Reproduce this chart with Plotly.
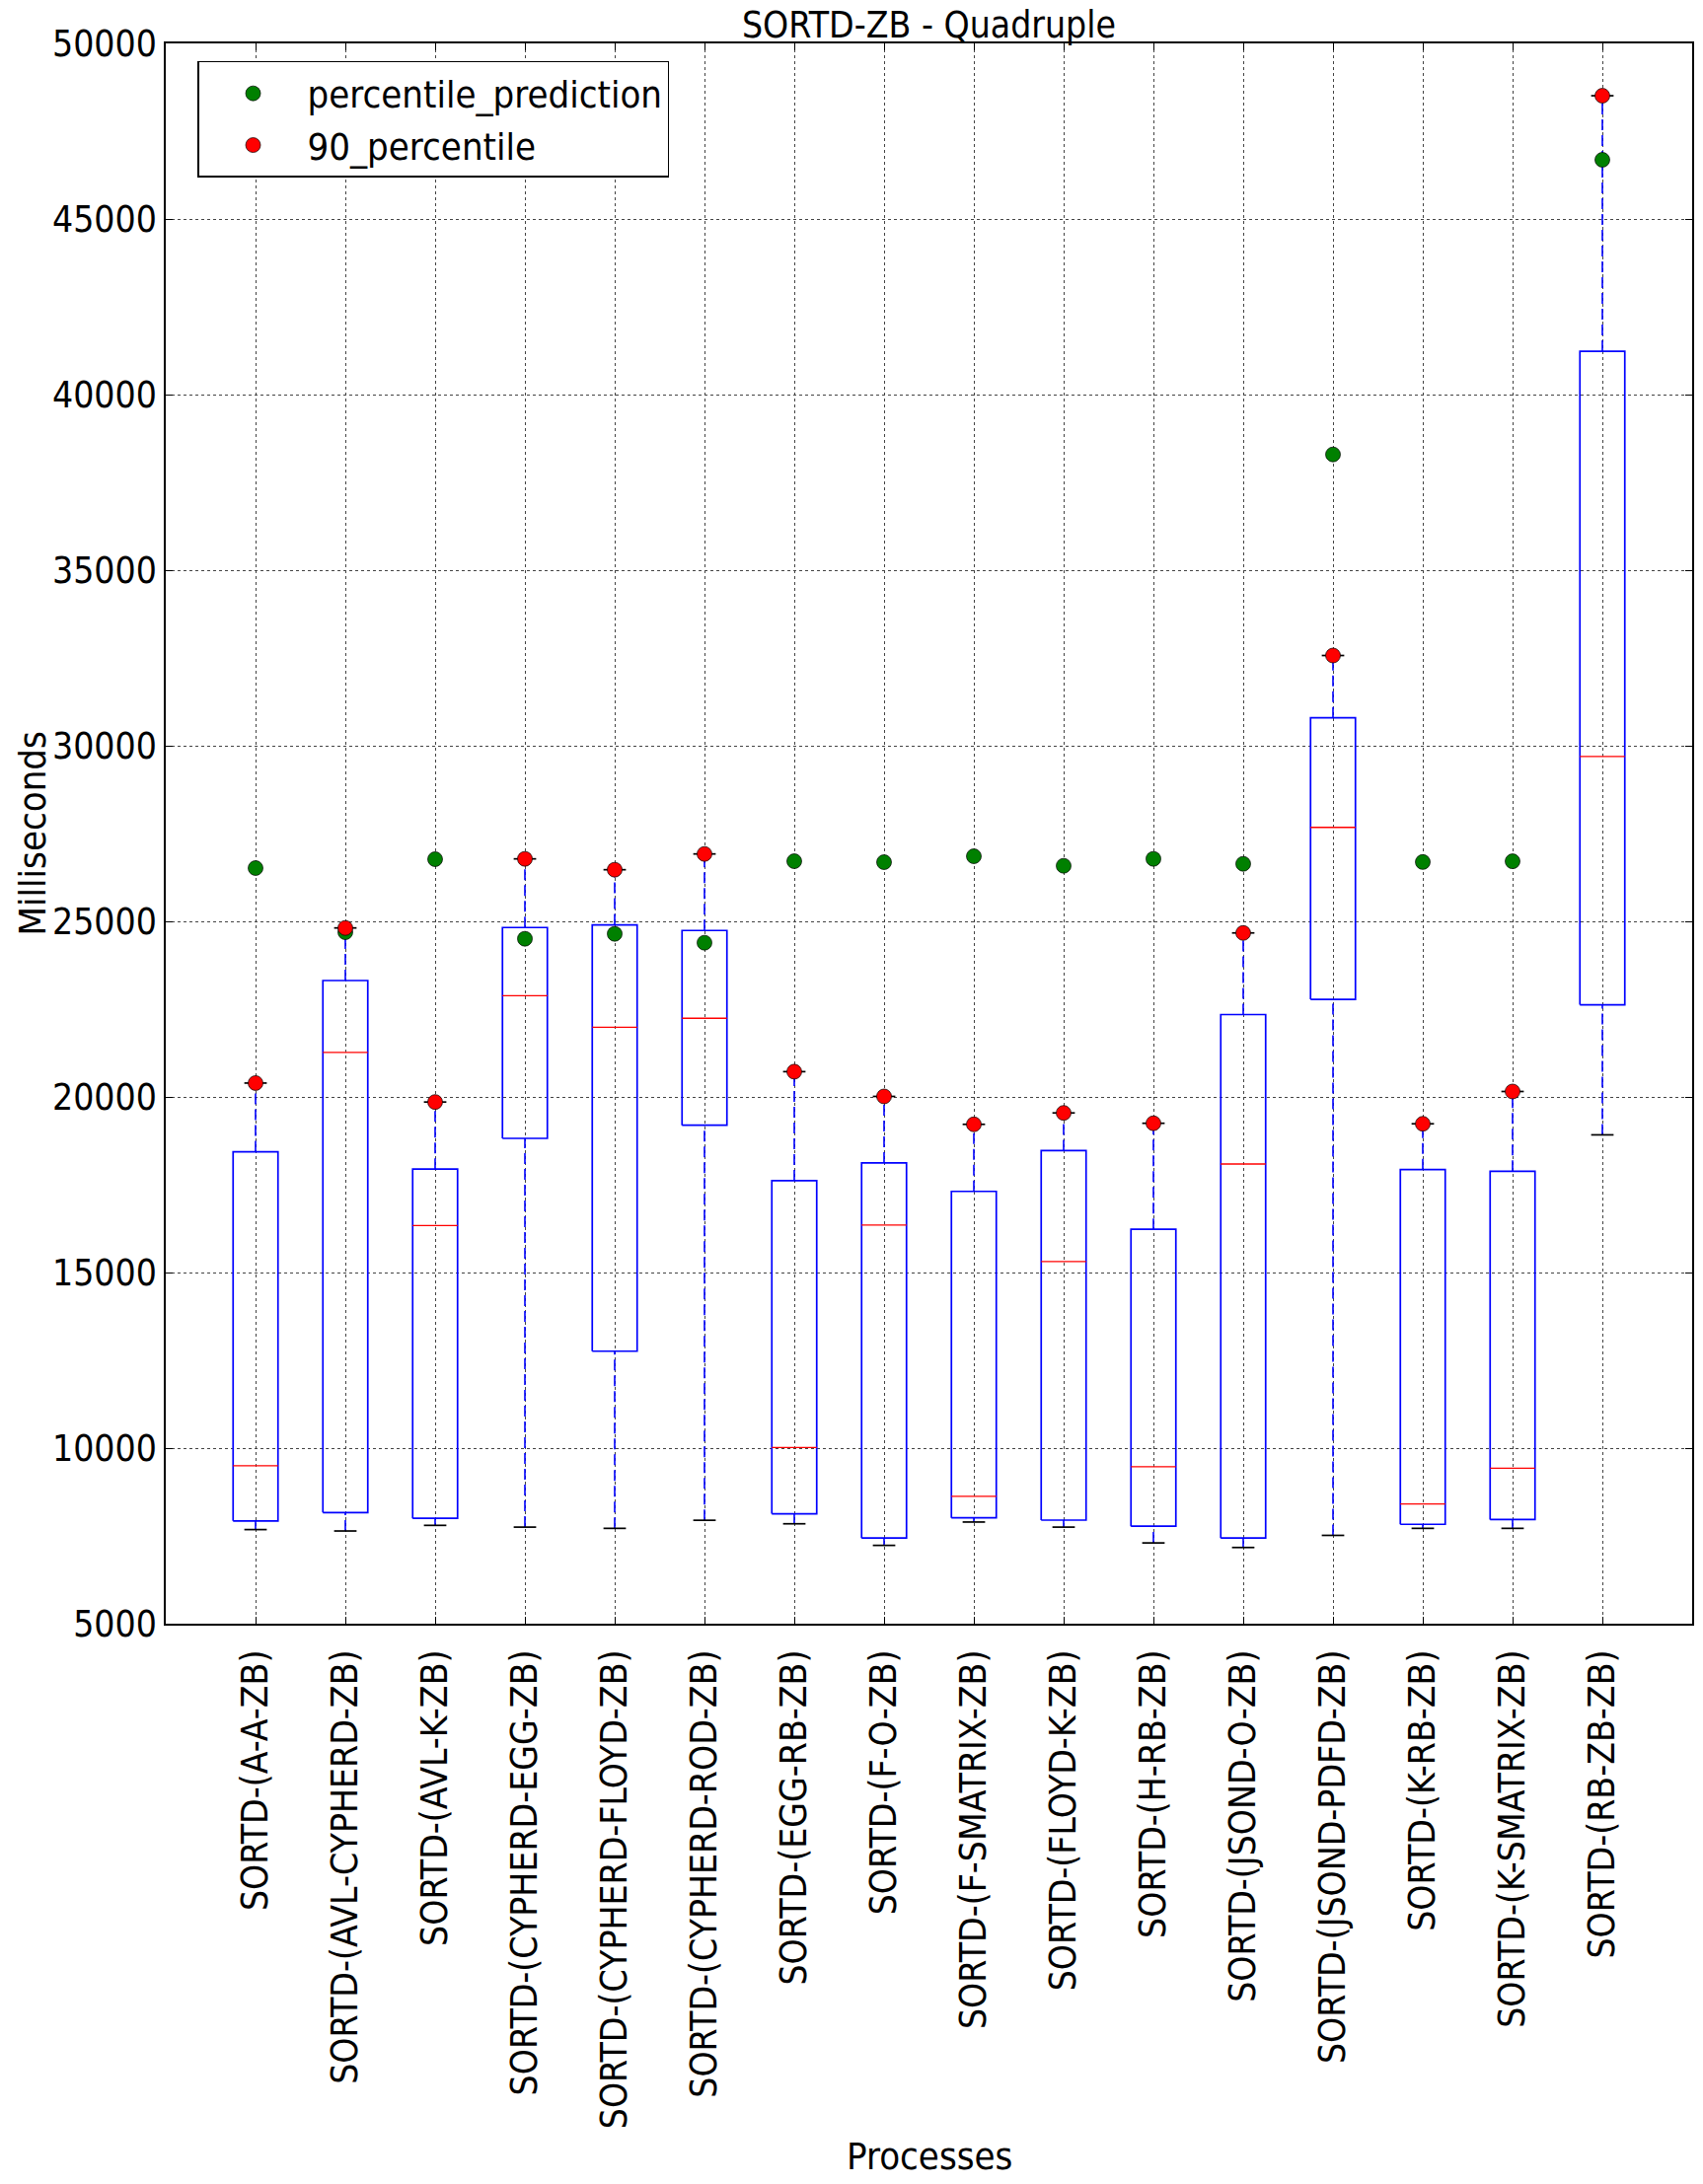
import plotly.graph_objects as go

# ---------------- data ----------------
categories = [
    "SORTD-(A-A-ZB)", "SORTD-(AVL-CYPHERD-ZB)", "SORTD-(AVL-K-ZB)",
    "SORTD-(CYPHERD-EGG-ZB)", "SORTD-(CYPHERD-FLOYD-ZB)", "SORTD-(CYPHERD-ROD-ZB)",
    "SORTD-(EGG-RB-ZB)", "SORTD-(F-O-ZB)", "SORTD-(F-SMATRIX-ZB)",
    "SORTD-(FLOYD-K-ZB)", "SORTD-(H-RB-ZB)", "SORTD-(JSOND-O-ZB)",
    "SORTD-(JSOND-PDFD-ZB)", "SORTD-(K-RB-ZB)", "SORTD-(K-SMATRIX-ZB)",
    "SORTD-(RB-ZB-ZB)",
]
whisker_low = [7680, 7640, 7800, 7750, 7715, 7945, 7845, 7230, 7895, 7750, 7300, 7170, 7515, 7715, 7715, 18920]
q1 = [7925, 8165, 8000, 18820, 12760, 19195, 8130, 7440, 8015, 7950, 7775, 7440, 22780, 7830, 7965, 22625]
median = [9500, 21270, 16340, 22885, 21985, 22240, 10015, 16350, 8625, 15315, 9470, 18090, 27675, 8410, 9425, 29695]
q3 = [18440, 23315, 17945, 24825, 24900, 24740, 17615, 18120, 17310, 18470, 16230, 22345, 30795, 17930, 17885, 41235]
percentile_90 = [20395, 24812, 19855, 26779, 26470, 26919, 20720, 20015, 19220, 19545, 19250, 24670, 32570, 19235, 20155, 48510]
percentile_prediction = [26517, 24690, 26770, 24504, 24644, 24391, 26713, 26685, 26854, 26582, 26779, 26638, 38295, 26690, 26710, 46685]
y_ticks = [5000, 10000, 15000, 20000, 25000, 30000, 35000, 40000, 45000, 50000]

positions = list(range(1, len(categories) + 1))
BOX_HALF = 0.25
CAP_HALF = 0.125

# ---------------- geometry built from data ----------------
box_x, box_y = [], []
med_x, med_y = [], []
wh_x, wh_y = [], []
cap_x, cap_y = [], []
for p, lo, a, m, b, hi in zip(positions, whisker_low, q1, median, q3, percentile_90):
    box_x += [p - BOX_HALF, p + BOX_HALF, p + BOX_HALF, p - BOX_HALF, p - BOX_HALF, None]
    box_y += [a, a, b, b, a, None]
    med_x += [p - BOX_HALF, p + BOX_HALF, None]
    med_y += [m, m, None]
    wh_x += [p, p, None, p, p, None]
    wh_y += [lo, a, None, b, hi, None]
    cap_x += [p - CAP_HALF, p + CAP_HALF, None, p - CAP_HALF, p + CAP_HALF, None]
    cap_y += [lo, lo, None, hi, hi, None]

FONT = "DejaVu Sans Condensed, DejaVu Sans, sans-serif"
fig = go.Figure()

fig.add_trace(go.Scatter(x=wh_x, y=wh_y, mode="lines", showlegend=False, hoverinfo="skip",
                         line=dict(color="#0000ff", width=1.6, dash="11px,5px")))
fig.add_trace(go.Scatter(x=box_x, y=box_y, mode="lines", showlegend=False, hoverinfo="skip",
                         line=dict(color="#0000ff", width=1.7)))
fig.add_trace(go.Scatter(x=med_x, y=med_y, mode="lines", showlegend=False, hoverinfo="skip",
                         line=dict(color="#ff0000", width=1.3)))
fig.add_trace(go.Scatter(x=cap_x, y=cap_y, mode="lines", showlegend=False, hoverinfo="skip",
                         line=dict(color="#000000", width=1.7)))

fig.add_trace(go.Scatter(x=positions, y=percentile_prediction, mode="markers",
                         name="percentile_prediction",
                         marker=dict(color="#008000", size=15, line=dict(color="#000000", width=0.7))))
fig.add_trace(go.Scatter(x=positions, y=percentile_90, mode="markers",
                         name="90_percentile",
                         marker=dict(color="#ff0000", size=15, line=dict(color="#000000", width=0.7))))

axis_common = dict(
    showline=True, linecolor="#000000", linewidth=1.5, mirror="ticks",
    ticks="inside", ticklen=7, tickwidth=1, tickcolor="#000000",
    showgrid=True, gridcolor="#444444", gridwidth=1, griddash="dot",
    zeroline=False,
)

fig.update_xaxes(
    range=[0, 17], tickmode="array", tickvals=positions, ticktext=categories,
    tickangle=-90, tickfont=dict(family=FONT, size=37, color="#000000"),
    ticklabelstandoff=10, **axis_common,
)
fig.update_yaxes(
    range=[5000, 50000], tickmode="array", tickvals=y_ticks,
    ticktext=[str(v) for v in y_ticks],
    tickfont=dict(family=FONT, size=37, color="#000000"),
    **axis_common,
)

W, H = 1726, 2214
fig.update_layout(
    width=W, height=H,
    margin=dict(l=168, r=9, t=44, b=568),
    paper_bgcolor="#ffffff", plot_bgcolor="#ffffff",
    font=dict(family=FONT, size=37, color="#000000"),
    title=dict(text="SORTD-ZB - Quadruple", x=0.5, xref="paper", xanchor="center",
               y=1 - 25 / H, yref="container", yanchor="middle",
               font=dict(family=FONT, size=37, color="#000000")),
    legend=dict(x=0.0207, y=0.9888, xanchor="left", yanchor="top",
                bgcolor="#ffffff", bordercolor="#000000", borderwidth=1.5,
                font=dict(family=FONT, size=38, color="#000000"),
                itemwidth=100, itemsizing="trace", tracegroupgap=4),
    annotations=[
        dict(text="Processes", xref="paper", yref="paper", x=0.5, y=-0.337,
             xanchor="center", yanchor="middle", showarrow=False,
             font=dict(family=FONT, size=38, color="#000000")),
        dict(text="Milliseconds", xref="paper", yref="paper", x=-0.087, y=0.5,
             xanchor="center", yanchor="middle", textangle=-90, showarrow=False,
             font=dict(family=FONT, size=38, color="#000000")),
    ],
)

fig.write_html("out.html",
               config={"displayModeBar": False},
               post_script="document.body.style.margin='0';document.body.style.padding='0';")
